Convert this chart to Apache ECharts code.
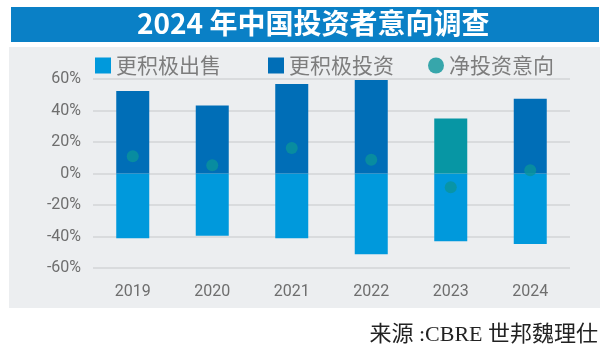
<!DOCTYPE html>
<html>
<head>
<meta charset="utf-8">
<script src="https://cdn.jsdelivr.net/npm/echarts@6/dist/echarts.min.js"></script>
<style>
  html, body { margin: 0; padding: 0; background: #fff; }
  #main { width: 611px; height: 354px; }
</style>
</head>
<body>
<div id="main"></div>
<script>
  // 年份
  var years = ['2019', '2020', '2021', '2022', '2023', '2024'];
  // 更积极出售（负值）
  var sellMore = [-41.1, -39.6, -41.1, -51.2, -43.0, -44.8];
  // 更积极投资
  var investMore = [52.4, 43.1, 56.8, 59.4, 35.0, 47.4];
  // 净投资意向
  var netIntent = [10.9, 5.2, 16.2, 8.7, -8.7, 2.1];
  // 投资柱改用青色的年份
  var tealYears = ['2023'];
  // 纵轴刻度
  var yMin = -60, yMax = 60, yStep = 20;

  var chart = echarts.init(document.getElementById('main'));

  var investData = investMore.map(function (v, i) {
    if (tealYears.indexOf(years[i]) >= 0) {
      return { value: v, itemStyle: { color: '#0796a4' } };
    }
    return v;
  });

  var legendText = { color: '#7d7d7d', fontSize: 21, fontFamily: 'Noto Sans CJK SC' };

  var option = {
    backgroundColor: '#fff',
    graphic: [
      { type: 'rect', shape: { x: 9, y: 47, width: 591, height: 261 }, style: { fill: '#eceef0' }, z: -10 },
      { type: 'rect', shape: { x: 11, y: 7, width: 588, height: 35 }, style: { fill: '#0a80c6' } },
      {
        type: 'text', left: 137, top: 9,
        style: { text: '2024 年中国投资者意向调查', fill: '#fff', fontSize: 28, fontWeight: 'bold', fontFamily: 'Noto Sans CJK SC' }
      },
      {
        type: 'text', right: 13, top: 324,
        style: { text: '来源 :CBRE 世邦魏理仕', fill: '#222', fontSize: 22, fontFamily: 'Liberation Serif, DejaVu Serif, Noto Sans CJK SC' }
      }
    ],
    legend: [
      { data: ['更积极出售'], left: 90, top: 50, itemWidth: 16, itemHeight: 16, itemGap: 9, textStyle: legendText, icon: 'rect' },
      { data: ['更积极投资'], left: 263, top: 50, itemWidth: 16, itemHeight: 16, textStyle: legendText, icon: 'rect' },
      { data: ['净投资意向'], left: 423, top: 50, itemWidth: 16, itemHeight: 16, textStyle: legendText, icon: 'circle' }
    ],
    grid: { left: 93, right: 41, top: 79, bottom: 86 },
    xAxis: {
      type: 'category',
      data: years,
      axisLine: { show: false },
      axisTick: { show: false },
      axisLabel: { color: '#6e6e6e', fontSize: 16, fontFamily: 'Roboto', margin: 16 }
    },
    yAxis: {
      type: 'value',
      min: yMin, max: yMax, interval: yStep,
      axisLine: { show: false },
      axisTick: { show: false },
      axisLabel: { color: '#6e6e6e', fontSize: 16, fontFamily: 'Roboto', margin: 12, formatter: '{value}%' },
      splitLine: { lineStyle: { color: '#d9dbdd', width: 2 } }
    },
    series: [
      {
        name: '更积极出售', type: 'bar', stack: 'all', barWidth: 33,
        itemStyle: { color: '#0099dc' }, data: sellMore
      },
      {
        name: '更积极投资', type: 'bar', stack: 'all', barWidth: 33,
        itemStyle: { color: '#006eb7' }, data: investData
      },
      {
        name: '净投资意向', type: 'scatter', symbolSize: 12, z: 5,
        itemStyle: { color: '#0a949a' }, data: netIntent
      }
    ]
  };
  chart.setOption(option);
</script>
</body>
</html>
